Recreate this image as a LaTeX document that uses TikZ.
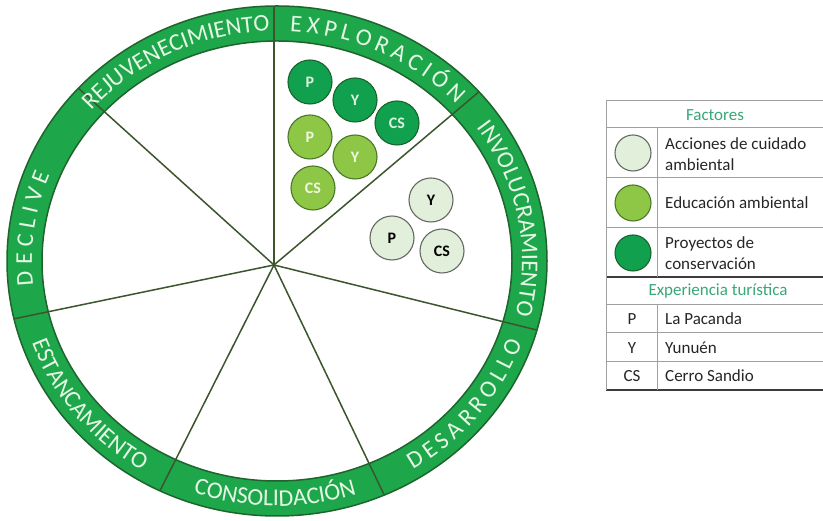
\documentclass[tikz,border=0pt]{standalone}
\usepackage{fontspec}
\setmainfont{Carlito}
\usetikzlibrary{decorations.text}
\definecolor{ringgreen}{RGB}{30,166,75}
\definecolor{ringline}{RGB}{30,100,45}
\definecolor{spokecol}{RGB}{60,85,45}
\definecolor{ringtxt}{RGB}{228,247,228}
\definecolor{dkfill}{RGB}{16,160,78}
\definecolor{dkline}{RGB}{25,100,45}
\definecolor{dktxt}{RGB}{220,242,222}
\definecolor{mdfill}{RGB}{142,198,70}
\definecolor{mdline}{RGB}{75,120,40}
\definecolor{mdtxt}{RGB}{240,248,225}
\definecolor{ltfill}{RGB}{226,239,218}
\definecolor{ltline}{RGB}{100,105,100}
\definecolor{headtxt}{RGB}{56,168,118}
\definecolor{tabgray}{RGB}{160,160,160}
\definecolor{tabdark}{RGB}{60,60,60}
\newcommand\ringfont{\fontsize{24pt}{24pt}\selectfont\color{ringtxt}}
\newcommand\legfont{\fontsize{17pt}{21pt}\selectfont}
\tikzset{
  spoke/.style={draw=spokecol, line width=1.5pt},
  ringedge/.style={draw=ringline, line width=1.5pt},
  spacedlabel/.style={decorate, decoration={text along path, text={|\ringfont|#1}, text align=fit to path}},
  ringlabel/.style={decorate, decoration={text along path, text={|\ringfont|#1}, text align=center}},
  bub/.style={circle, minimum size=44pt, inner sep=0pt, line width=1.1pt, font=\fontsize{16pt}{16pt}\selectfont\bfseries},
  dkc/.style={bub, fill=dkfill, draw=dkline, text=dktxt},
  mdc/.style={bub, fill=mdfill, draw=mdline, text=mdtxt},
  ltc/.style={bub, fill=ltfill, draw=ltline, text=black},
  legc/.style={circle, minimum size=36pt, inner sep=0pt, line width=1.1pt},
  tabline/.style={draw=tabgray, line width=1pt},
  tabstrong/.style={draw=tabdark, line width=1.1pt},
  legtext/.style={font=\legfont, text=black!85, anchor=west, align=left, inner sep=0pt},
  headtext/.style={font=\legfont, text=headtxt, inner sep=0pt},
}
\begin{document}
\begin{tikzpicture}[x=1pt,y=1pt]
\useasboundingbox (0,0) rectangle (823,521);
\fill[white] (0,0) rectangle (823,521);
\begin{scope}[shift={(277,260)}]
  \coordinate (C) at (0,0);
  \coordinate (H) at (-3,-4);
  \fill[ringgreen] (C) ellipse [x radius=270, y radius=255];
  \fill[white] (C) ellipse [x radius=235, y radius=220];
  \begin{scope}
    \clip (C) ellipse [x radius=270, y radius=255];
    \foreach \a in {90,40.2,-13.9,-64.4,-116.8,-168.3,137.9}
      \draw[spoke] (H) -- ++(\a:420);
  \end{scope}
  \draw[ringedge] (C) ellipse [x radius=270, y radius=255];
  \draw[ringedge] (C) ellipse [x radius=235, y radius=220];
  % labels, clockwise (tops outward)
  \path[spacedlabel=EXPLORACIÓN] (87:245 and 230) arc[start angle=87, end angle=43, x radius=245, y radius=230];
  \path[ringlabel=INVOLUCRAMIENTO] (38:245 and 230) arc[start angle=38, end angle=-16, x radius=245, y radius=230];
  \path[spacedlabel=DECLIVE] (186:245 and 230) arc[start angle=186, end angle=158, x radius=245, y radius=230];
  \path[ringlabel=REJUVENECIMIENTO] (142:245 and 230) arc[start angle=142, end angle=89, x radius=245, y radius=230];
  % labels, counter-clockwise (tops inward)
  \path[spacedlabel=DESARROLLO] (-58.5:260 and 245) arc[start angle=-58.5, end angle=-19.5, x radius=260, y radius=245];
  \path[ringlabel=CONSOLIDACIÓN] (-115.5:260 and 245) arc[start angle=-115.5, end angle=-65.5, x radius=260, y radius=245];
  \path[ringlabel=ESTANCAMIENTO] (-166:260 and 245) arc[start angle=-166, end angle=-116, x radius=260, y radius=245];
\end{scope}
% bubbles
\node[dkc] (dP) at (310,439) {P};
\node[dkc] (dY) at (355,421) {Y};
\node[dkc] (dC) at (397,398) {CS};
\node[mdc] (mP) at (310,384) {P};
\node[mdc] (mY) at (355,364) {Y};
\node[mdc] (mC) at (313,333) {CS};
\node[ltc] (lY) at (431,321) {Y};
\node[ltc] (lP) at (392,283) {P};
\node[ltc] (lC) at (442,270) {CS};
% legend table
\draw[tabline] (606,420) -- (823,420);
\draw[tabline] (606,393) -- (823,393);
\draw[tabline] (606,343) -- (823,343);
\draw[tabline] (606,293) -- (823,293);
\draw[tabstrong] (606,244) -- (823,244);
\draw[tabline] (606,216) -- (823,216);
\draw[tabline] (606,188) -- (823,188);
\draw[tabline] (606,159) -- (823,159);
\draw[tabstrong] (606,131) -- (823,131);
\draw[tabline] (606,420) -- (606,131);
\draw[tabline] (657,393) -- (657,244);
\draw[tabline] (657,216) -- (657,131);
\node[headtext] (hF) at (715,406) {Factores};
\node[legc, fill=ltfill, draw=ltline] (c1) at (633,368) {};
\node[legc, fill=mdfill, draw=mdline] (c2) at (633,318) {};
\node[legc, fill=dkfill, draw=dkline] (c3) at (633,268) {};
\node[legtext] (t1) at (665,367) {Acciones de cuidado\\ambiental};
\node[legtext] (t2) at (665,318) {Educación ambiental};
\node[legtext] (t3) at (665,268) {Proyectos de\\conservación};
\node[headtext] (hE) at (718,230) {Experiencia turística};
\node[font=\legfont, text=black!85, inner sep=0pt] (kP) at (632,202) {P};
\node[font=\legfont, text=black!85, inner sep=0pt] (kY) at (632,173) {Y};
\node[font=\legfont, text=black!85, inner sep=0pt] (kC) at (632,145) {CS};
\node[legtext] (nP) at (665,202) {La Pacanda};
\node[legtext] (nY) at (665,173) {Yunuén};
\node[legtext] (nC) at (665,145) {Cerro Sandio};
\end{tikzpicture}
\end{document}
